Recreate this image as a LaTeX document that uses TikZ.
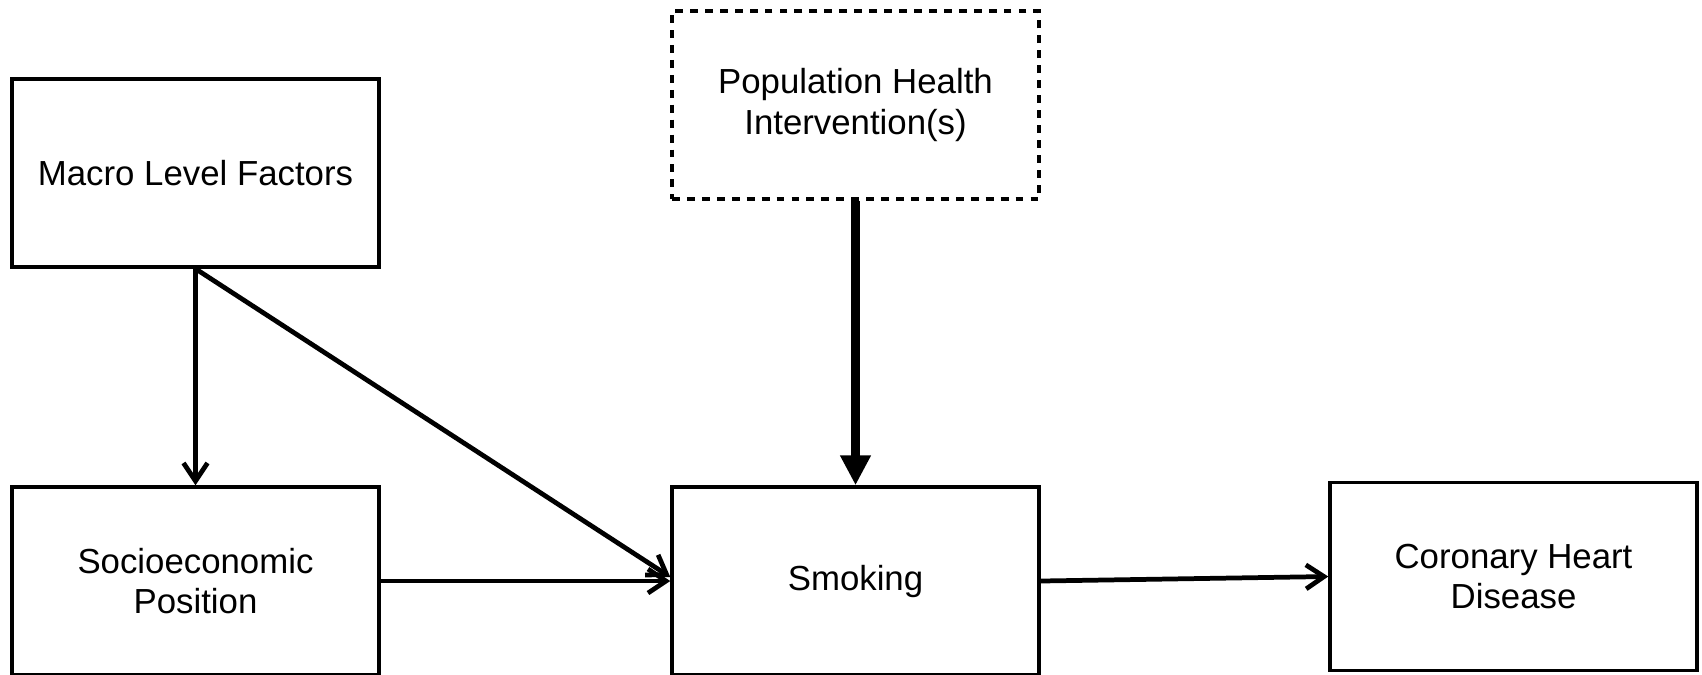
\documentclass[tikz,border=0pt]{standalone}
\usepackage{fontspec}
\setmainfont{Liberation Sans}
\usepackage{tikz}
\usetikzlibrary{arrows.meta,positioning}

\begin{document}
\begin{tikzpicture}[
  node distance=4.33cm and 5.79cm,
  every node/.style={font=\fontsize{19.8}{23}\selectfont},
  box/.style={rectangle, draw=black, line width=2pt, fill=white,
              minimum width=7.34cm, minimum height=3.76cm, align=center},
  ibox/.style={box, dash pattern=on 4.5pt off 4pt},
  arr/.style={-{Straight Barb[length=3.6mm,width=4.8mm]}, line width=2.7pt},
  bigarr/.style={-{Triangle[length=6mm,width=5.8mm]}, line width=5.6pt}
]
\useasboundingbox (0,0) rectangle (34.04,-13.48);
\node[box]  (macro) at (3.91,-3.46) {Macro Level Factors};
\node[box]  (sep)   [below=of macro] {Socioeconomic\\Position};
\node[box]  (smk)   [right=of sep]   {Smoking};
\node[box]  (chd)   [right=5.75cm of smk, yshift=0.09cm] {Coronary Heart\\Disease};
\node[ibox] (phi)   [above=5.69cm of smk] {Population Health\\Intervention(s)};

\draw[arr]    (macro.south) -- (sep.north);
\draw[arr]    (macro.south) -- ([yshift=0.08cm]smk.west);
\draw[arr]    (sep.east)    -- (smk.west);
\draw[bigarr] (phi.south)   -- (smk.north);
\draw[arr]    (smk.east)    -- (chd.west);
\end{tikzpicture}
\end{document}
